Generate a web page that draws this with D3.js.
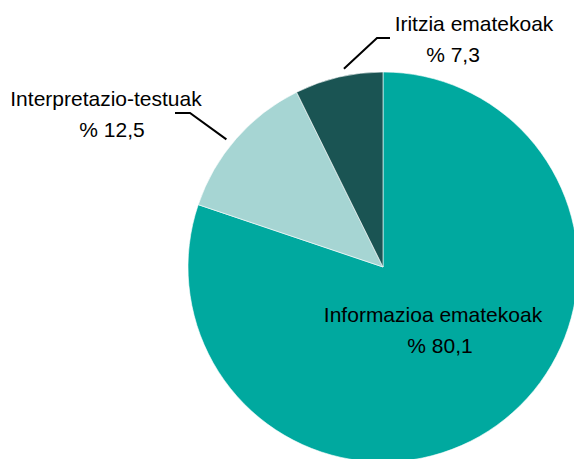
<!DOCTYPE html>
<html>
<head>
<meta charset="utf-8">
<script src="https://cdn.jsdelivr.net/npm/d3@7/dist/d3.min.js"></script>
<style>
  html, body { margin: 0; padding: 0; background: #fff; }
  svg { display: block; }
</style>
</head>
<body>
<div id="chart"></div>
<script>
// Datuak
var categories = ["Informazioa ematekoak", "Interpretazio-testuak", "Iritzia ematekoak"];
var values = [80.1, 12.5, 7.3];
var valueLabels = ["% 80,1", "% 12,5", "% 7,3"];
var colors = ["#00A99F", "#A6D5D3", "#1A5453"];

// Etiketen kokapena (Excel-en eskuz jarritakoak)
var labelLayout = [
  { nameX: 433, nameY: 322, pctX: 440, pctY: 353, leader: null },
  { nameX: 106, nameY: 106, pctX: 112, pctY: 137, nudge: -2, leader: [[190, 113], [175, 113]] },
  { nameX: 474, nameY: 31, pctX: 453, pctY: 62, nudge: 2, leader: [[377, 38], [390, 38]] }
];

var width = 574, height = 459;
var cx = 383, cy = 267, radius = 195;

var svg = d3.select("#chart").append("svg")
  .attr("width", width)
  .attr("height", height);

var g = svg.append("g")
  .attr("transform", "translate(" + [cx, cy] + ")");

var data = categories.map(function(c, i) { return { name: c, value: values[i], label: valueLabels[i], color: colors[i] }; });

var pie = d3.pie().sort(null).value(function(d) { return d.value; });
var arc = d3.arc().innerRadius(0).outerRadius(radius);

var slices = pie(data);

g.selectAll("path.slice").data(slices).enter()
  .append("path")
    .attr("class", "slice")
    .attr("d", arc)
    .attr("fill", function(d) { return d.data.color; })
    .attr("stroke", "#fff")
    .attr("stroke-width", 0.6);

// Lotura-lerroak: zatiaren erdiko angelutik abiatuta, ertzetik pixka bat kanpora
slices.forEach(function(s, i) {
  var lay = labelLayout[i];
  if (!lay.leader) return;
  var a = (s.startAngle + s.endAngle) / 2 + lay.nudge * Math.PI / 180;
  var r0 = radius + 7;
  var start = [cx + r0 * Math.sin(a), cy - r0 * Math.cos(a)];
  svg.append("path")
    .attr("d", d3.line()([start].concat(lay.leader)))
    .attr("fill", "none")
    .attr("stroke", "#000")
    .attr("stroke-width", 2);
});

// Testuak
var font = "'Liberation Sans', Arial, sans-serif";
slices.forEach(function(s, i) {
  var lay = labelLayout[i];
  svg.append("text")
    .attr("x", lay.nameX).attr("y", lay.nameY)
    .attr("text-anchor", "middle")
    .style("font-family", font).style("font-size", "21px")
    .attr("fill", "#000")
    .text(s.data.name);
  svg.append("text")
    .attr("x", lay.pctX).attr("y", lay.pctY)
    .attr("text-anchor", "middle")
    .style("font-family", font).style("font-size", "21px")
    .attr("fill", "#000")
    .text(s.data.label);
});
</script>
</body>
</html>
